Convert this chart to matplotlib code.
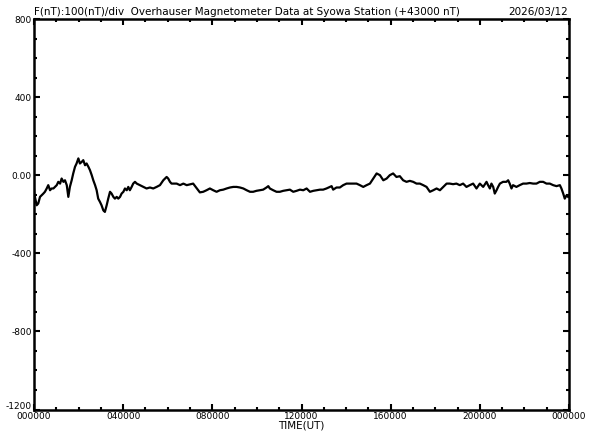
import matplotlib
matplotlib.use("Agg")
import matplotlib.pyplot as plt
import matplotlib.transforms as mtransforms
from matplotlib.ticker import MultipleLocator, FixedLocator

# Overhauser magnetometer F (nT) minus 43000 nT, time in hours UT
hours = [0.00, 0.01, 0.12, 0.19, 0.27, 0.34, 0.42, 0.49, 0.57, 0.64, 0.72, 0.79,
         0.87, 0.94, 1.02, 1.09, 1.17, 1.24, 1.32, 1.39, 1.47, 1.54, 1.61, 1.69,
         1.76, 1.84, 1.91, 1.99, 2.06, 2.14, 2.21, 2.29, 2.36, 2.44, 2.51, 2.59,
         2.66, 2.74, 2.81, 2.88, 2.96, 3.03, 3.11, 3.18, 3.26, 3.33, 3.41, 3.48,
         3.56, 3.63, 3.71, 3.78, 3.86, 3.93, 4.01, 4.08, 4.16, 4.23, 4.30, 4.38,
         4.45, 4.53, 4.61, 4.75, 4.90, 5.05, 5.20, 5.35, 5.50, 5.65, 5.80, 5.95,
         6.02, 6.10, 6.17, 6.40, 6.55, 6.70, 6.85, 7.14,
         7.44, 7.59, 7.74, 7.89, 8.04, 8.19, 8.34, 8.49, 8.64, 8.79, 8.94, 9.09,
         9.24, 9.39, 9.54, 9.69, 9.83, 9.98, 10.13, 10.28, 10.43, 10.51, 10.58,
         10.73, 10.88, 11.03, 11.18, 11.33, 11.48, 11.63, 11.78, 11.93, 12.08,
         12.23, 12.38, 12.53, 12.68, 12.83, 12.97, 13.12, 13.27, 13.35, 13.42,
         13.57, 13.72, 13.87, 14.02, 14.17, 14.32, 14.47, 14.62, 14.77, 14.92,
         15.07, 15.22, 15.37, 15.52, 15.67, 15.82, 15.96, 16.11, 16.26,
         16.41, 16.56, 16.71, 16.86, 17.01, 17.16, 17.31, 17.46, 17.61, 17.76,
         17.91, 18.06, 18.21, 18.36, 18.51, 18.65, 18.80, 18.95, 19.10, 19.25,
         19.40, 19.55, 19.70, 19.85, 20.00, 20.15, 20.30, 20.37, 20.45, 20.52,
         20.60, 20.67, 20.75, 20.82, 20.90, 21.04, 21.19, 21.27, 21.34, 21.42,
         21.49, 21.64, 21.79, 21.94, 22.09, 22.24, 22.39, 22.54, 22.69, 22.84,
         22.99, 23.14, 23.29, 23.44, 23.59, 23.66, 23.74, 23.81, 23.89, 23.96]
f_nt = [-73, -94, -154, -145, -111, -103, -94, -85, -68, -51, -77, -68,
        -68, -60, -51, -34, -43, -17, -34, -26, -51, -111, -60, -26,
        9, 43, 60, 86, 60, 68, 77, 51, 60, 43, 26, 0,
        -26, -51, -77, -120, -137, -154, -180, -188, -154, -120, -85, -94,
        -111, -120, -111, -120, -111, -94, -85, -68, -77, -60, -77, -60,
        -43, -34, -43, -51, -60, -68, -63, -68, -60, -51, -26, -9,
        -17, -34, -43, -43, -51, -43, -51, -43,
        -88, -85, -77, -68, -77, -85, -77, -74, -68, -63, -60, -60,
        -63, -68, -77, -85, -85, -80, -77, -74, -63, -56, -68,
        -77, -85, -85, -80, -77, -74, -85, -80, -74, -77,
        -68, -85, -80, -77, -74, -74, -68, -60, -56, -74,
        -63, -63, -51, -43, -43, -43, -43, -51, -60, -51,
        -43, -17, 9, 0, -26, -17, 0, 9, -9,
        -5, -26, -34, -29, -34, -43, -43, -51, -60, -85,
        -77, -68, -77, -60, -43, -43, -46, -43, -51, -43,
        -60, -51, -43, -68, -43, -60, -34, -51, -68, -43,
        -60, -94, -77, -60, -43, -34, -34, -26, -43, -68,
        -51, -60, -51, -43, -43, -40, -43, -43, -34, -34,
        -43, -43, -51, -56, -51, -68, -94, -120, -103, -111]

ytick_vals = [800, 400, 0, -400, -800, -1200]
ytick_labels = ["800", "400", "0.00", "-400", "-800", "-1200"]
xtick_vals = [0, 4, 8, 12, 16, 20, 24]
xtick_labels = ["%02d0000" % (h % 24) for h in xtick_vals]

plt.rcParams['font.family'] = ['DejaVu Sans']
fig = plt.figure(figsize=(5.92, 4.40), dpi=100)
ax = fig.add_axes([34 / 592, 1 - 409.5 / 440, 535 / 592, 390.5 / 440])

ax.plot(hours, f_nt, color='black', lw=1.6)

ax.set_xlim(0, 24)
ax.set_ylim(-1200, 800)
ax.xaxis.set_major_locator(FixedLocator(xtick_vals))
ax.set_xticklabels(xtick_labels)
ax.xaxis.set_minor_locator(MultipleLocator(1))
ax.yaxis.set_major_locator(FixedLocator(ytick_vals))
ax.set_yticklabels(ytick_labels)
ax.yaxis.set_minor_locator(MultipleLocator(100))

ax.tick_params(which='both', direction='in', top=True, right=True,
               width=1.5, labelsize=6.5, pad=1.5)
ax.tick_params(which='major', length=4)
ax.tick_params(which='minor', length=2)
for s in ax.spines.values():
    s.set_linewidth(1.8)

# lift the bottom y label a little so it clears the first time label
lab = ax.get_yticklabels()[-1]
lab.set_transform(lab.get_transform() +
                  mtransforms.ScaledTranslation(0, 4 / 100, fig.dpi_scale_trans))

ax.set_xlabel("TIME(UT)", fontsize=7.5, labelpad=0)
ax.text(0.0, 1.005, "F(nT):100(nT)/div  Overhauser Magnetometer Data at Syowa Station (+43000 nT)",
        transform=ax.transAxes, ha='left', va='bottom', fontsize=7.5)
ax.text(0.998, 1.005, "2026/03/12", transform=ax.transAxes,
        ha='right', va='bottom', fontsize=7.5)

fig.savefig("out.png", dpi=100)
